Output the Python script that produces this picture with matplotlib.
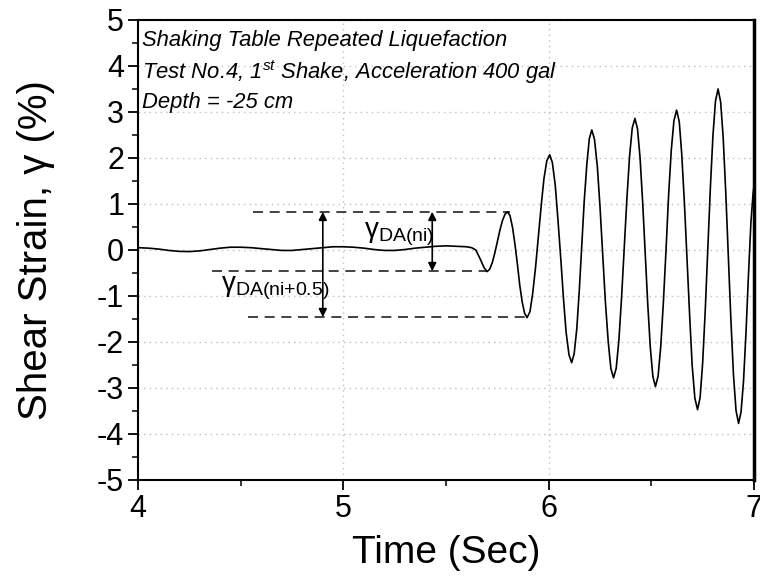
import matplotlib
matplotlib.use('Agg')
import matplotlib.pyplot as plt
from matplotlib.ticker import MultipleLocator

plt.rcParams['font.family'] = ['Liberation Sans', 'DejaVu Sans']
plt.rcParams['mathtext.fontset'] = 'custom'
plt.rcParams['mathtext.rm'] = 'Liberation Sans'
plt.rcParams['mathtext.it'] = 'Liberation Sans:italic'
plt.rcParams['mathtext.bf'] = 'Liberation Sans:bold'
plt.rcParams['axes.unicode_minus'] = False

# time history (sec, %)
time = [4.00, 4.05, 4.10, 4.15, 4.20, 4.25, 4.30, 4.35, 4.40, 4.45,
        4.50, 4.55, 4.60, 4.65, 4.70, 4.75, 4.80, 4.85, 4.90, 4.95,
        5.00, 5.05, 5.10, 5.15, 5.20, 5.25, 5.30, 5.35, 5.40, 5.45,
        5.50, 5.55, 5.60, 5.625, 5.645, 5.665, 5.685, 5.70,
        5.7125, 5.725, 5.7375, 5.75, 5.7625, 5.775, 5.7875, 5.80,
        5.812, 5.824, 5.836, 5.848, 5.859, 5.871, 5.883, 5.895,
        5.909, 5.922, 5.936, 5.950, 5.964, 5.977, 5.991, 6.005,
        6.018, 6.032, 6.045, 6.059, 6.072, 6.085, 6.099, 6.112,
        6.124, 6.137, 6.149, 6.161, 6.173, 6.186, 6.198, 6.210,
        6.223, 6.237, 6.250, 6.263, 6.276, 6.290, 6.303, 6.316,
        6.329, 6.342, 6.355, 6.368, 6.381, 6.394, 6.407, 6.420,
        6.4325, 6.445, 6.4575, 6.470, 6.4825, 6.495, 6.5075, 6.520,
        6.533, 6.546, 6.559, 6.572, 6.584, 6.597, 6.610, 6.623,
        6.636, 6.648, 6.661, 6.674, 6.687, 6.699, 6.712, 6.725,
        6.7375, 6.750, 6.7625, 6.775, 6.7875, 6.800, 6.8125, 6.825,
        6.8375, 6.850, 6.8625, 6.875, 6.8875, 6.900, 6.9125, 6.925,
        6.937, 6.949, 6.961, 6.973, 6.985, 6.995, 7.00]
strain = [0.05, 0.04, 0.02, -0.01, -0.03, -0.035, -0.02, 0.01, 0.04, 0.06,
          0.06, 0.05, 0.03, 0.01, -0.01, -0.01, 0.01, 0.03, 0.05, 0.07,
          0.07, 0.06, 0.04, 0.01, -0.01, -0.01, 0.01, 0.04, 0.06, 0.08,
          0.09, 0.08, 0.07, 0.05, 0.0, -0.18, -0.38, -0.47,
          -0.42, -0.28, -0.07, 0.18, 0.43, 0.64, 0.78, 0.83,
          0.74, 0.49, 0.12, -0.32, -0.76, -1.13, -1.38, -1.47,
          -1.34, -0.95, -0.38, 0.30, 0.98, 1.55, 1.94, 2.07,
          1.90, 1.41, 0.67, -0.19, -1.05, -1.79, -2.28, -2.45,
          -2.26, -1.71, -0.89, 0.08, 1.05, 1.87, 2.42, 2.61,
          2.41, 1.82, 0.94, -0.09, -1.11, -1.99, -2.58, -2.78,
          -2.57, -1.96, -1.04, 0.04, 1.12, 2.04, 2.65, 2.86,
          2.64, 2.01, 1.06, -0.06, -1.17, -2.12, -2.75, -2.97,
          -2.74, -2.09, -1.11, 0.04, 1.18, 2.16, 2.81, 3.04,
          2.79, 2.09, 1.03, -0.22, -1.46, -2.52, -3.22, -3.47,
          -3.21, -2.45, -1.32, 0.02, 1.35, 2.48, 3.24, 3.50,
          3.22, 2.44, 1.25, -0.14, -1.52, -2.71, -3.49, -3.77,
          -3.52, -2.85, -1.80, -0.55, 0.60, 1.20, 1.40]

# reference levels for double amplitude
level_top = 0.83
level_mid = -0.46
level_bot = -1.46
dash_top = (4.56, 5.81)
dash_mid = (4.36, 5.70)
dash_bot = (4.535, 5.89)
arrow_big_t = 4.90
arrow_small_t = 5.433

fig = plt.figure(figsize=(7.6, 5.79), dpi=100)
ax = fig.add_axes([0.1816, 0.171, 0.8105, 0.7945])

ax.plot(time, strain, color='black', lw=1.2, zorder=3)

for lv, (t0, t1) in [(level_top, dash_top), (level_mid, dash_mid), (level_bot, dash_bot)]:
    ax.plot([t0, t1], [lv, lv], color='#222222', lw=1.2, linestyle=(0, (6, 4)), zorder=2)

arrow = dict(arrowstyle='<|-|>', color='black', lw=1.2, mutation_scale=12,
             shrinkA=0, shrinkB=0)
ax.annotate('', xy=(arrow_big_t, level_bot), xytext=(arrow_big_t, level_top), arrowprops=arrow)
ax.annotate('', xy=(arrow_small_t, level_mid), xytext=(arrow_small_t, level_top), arrowprops=arrow)

ax.text(5.10, 0.28, r'$\mathrm{\gamma}_{\mathrm{DA(ni)}}$', fontsize=20, va='baseline', ha='left')
ax.text(4.405, -0.91, r'$\mathrm{\gamma}_{\mathrm{DA(ni{+}0.5)}}$', fontsize=20, va='baseline', ha='left')

ax.text(0.006, 0.943, 'Shaking Table Repeated Liquefaction', transform=ax.transAxes,
        fontsize=15.8, style='italic', va='baseline')
ax.text(0.006, 0.872, r'Test No.4, 1$^{st}$ Shake, Acceleration 400 gal', transform=ax.transAxes,
        fontsize=15.8, style='italic', va='baseline')
ax.text(0.006, 0.808, 'Depth = -25 cm', transform=ax.transAxes,
        fontsize=15.8, style='italic', va='baseline')

ax.set_xlim(4, 7)
ax.set_ylim(-5, 5)
ax.xaxis.set_major_locator(MultipleLocator(1))
ax.xaxis.set_minor_locator(MultipleLocator(0.5))
ax.yaxis.set_major_locator(MultipleLocator(1))
ax.yaxis.set_minor_locator(MultipleLocator(0.5))
ax.tick_params(which='major', direction='out', length=7, width=1.3, labelsize=22, pad=3)
ax.tick_params(which='minor', direction='out', length=4, width=1.1)
ax.tick_params(top=False, right=False, which='both')

ax.grid(True, which='major', color='#c0c0c0', linestyle=(0, (1, 3)), lw=1.0)
for side in ['left', 'bottom', 'top']:
    ax.spines[side].set_linewidth(1.5)
ax.spines['right'].set_linewidth(2.5)

ax.set_xlabel('Time (Sec)', fontsize=28, labelpad=8)
ax.set_ylabel('Shear Strain, γ (%)', fontsize=29, labelpad=30)

fig.savefig('out.png', dpi=100)
